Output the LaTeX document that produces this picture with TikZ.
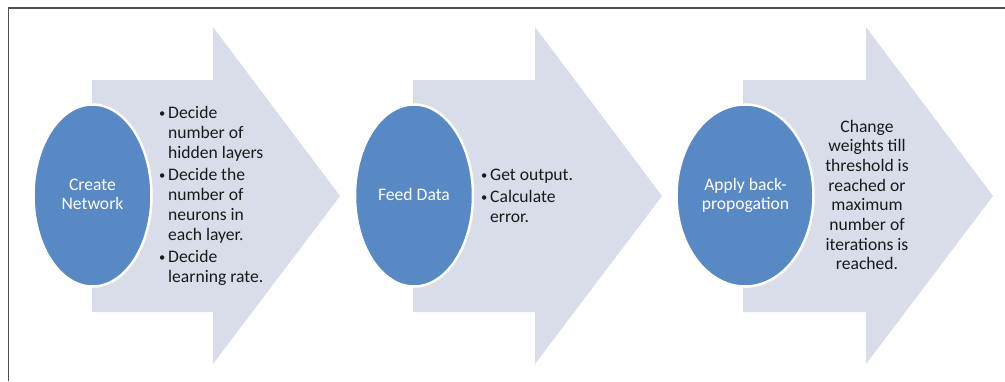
\documentclass[tikz,border=0pt]{standalone}
\usepackage{fontspec}
\setmainfont{Carlito}
\usetikzlibrary{shapes.geometric}

\definecolor{arrowfill}{HTML}{D8DDE9}
\definecolor{ovalfill}{HTML}{5889C4}
\definecolor{framegray}{HTML}{505050}
\definecolor{bodytext}{HTML}{1A1A1A}

% stacked lines, baseline of the block = baseline of its first line
\newcommand\leftlines[2]{\vtop{\baselineskip=#1pt\lineskiplimit=-50pt\halign{##\hfil\cr #2\crcr}}}
\newcommand\midlines[2]{\vtop{\baselineskip=#1pt\lineskiplimit=-50pt\halign{\hfil##\hfil\cr #2\crcr}}}
\newcommand\bul{\makebox[9.5pt][l]{\hskip0.5pt\raisebox{1pt}{\fontsize{12.5}{12.5}\selectfont\textbullet}}}
\newcommand\ind{\hskip9.5pt}

\tikzset{
  chevron/.style={fill=arrowfill},
  oval/.style={ellipse, fill=ovalfill, draw=white, line width=2.5pt, inner sep=0pt},
  ovaltext/.style={text=white, font=\fontsize{17.6}{20}\selectfont, inner sep=0pt, anchor=base},
  bodylist/.style={text=bodytext, font=\fontsize{17.6}{20}\selectfont, inner sep=0pt, anchor=base west},
  bodymid/.style={text=bodytext, font=\fontsize{17.6}{20}\selectfont, inner sep=0pt, anchor=base},
  frameline/.style={draw=framegray, line width=1.5pt},
}

\begin{document}
\begin{tikzpicture}[x=1pt, y=-1pt]
  \useasboundingbox (0,0) rectangle (1005,381);

  % frame (top and left edges)
  \coordinate (frameTR) at (1005,8);
  \coordinate (frameTL) at (8.5,8);
  \coordinate (frameBL) at (8.5,381);
  \draw[frameline] (frameTR) -- (frameTL) -- (frameBL);

  % three block arrows
  \fill[chevron] (92,80) -- (213,80) -- (213,27) -- (340,196) -- (213,364) -- (213,312) -- (92,312) -- cycle;
  \fill[chevron] (413,80) -- (535,80) -- (535,27) -- (662,196) -- (535,364) -- (535,312) -- (413,312) -- cycle;
  \fill[chevron] (743,80) -- (866,80) -- (866,27) -- (993,196) -- (866,364) -- (866,312) -- (743,312) -- cycle;

  % step ovals
  \node[oval, minimum width=118pt, minimum height=182pt] (createOval) at (92.5,195.5) {};
  \node[oval, minimum width=118pt, minimum height=182pt] (feedOval) at (414,195.5) {};
  \node[oval, minimum width=137pt, minimum height=182pt] (backOval) at (745,195.5) {};

  \node[ovaltext] (createText) at (92.5,190) {\midlines{19.5}{Create\cr Network}};
  \node[ovaltext] (feedText) at (414,200) {Feed Data};
  \node[ovaltext] (backText) at (745.5,190) {\midlines{19.5}{Apply back-\cr propogation}};

  % step details
  \node[bodylist] (createList) at (158.5,118) {\leftlines{20}{%
    \bul Decide\cr \ind number of\cr \ind hidden layers\cr \noalign{\vskip2pt}
    \bul Decide the\cr \ind number of\cr \ind neurons in\cr \ind each layer.\cr \noalign{\vskip2pt}
    \bul Decide\cr \ind learning rate.}};

  \node[bodylist] (feedList) at (480.5,180) {\leftlines{20}{%
    \bul Get output.\cr \noalign{\vskip2pt}
    \bul Calculate\cr \ind error.}};

  \node[bodymid] (backList) at (867,132) {\midlines{19.7}{%
    Change\cr weights till\cr threshold is\cr reached or\cr maximum\cr number of\cr iterations is\cr reached.}};
\end{tikzpicture}
\end{document}
